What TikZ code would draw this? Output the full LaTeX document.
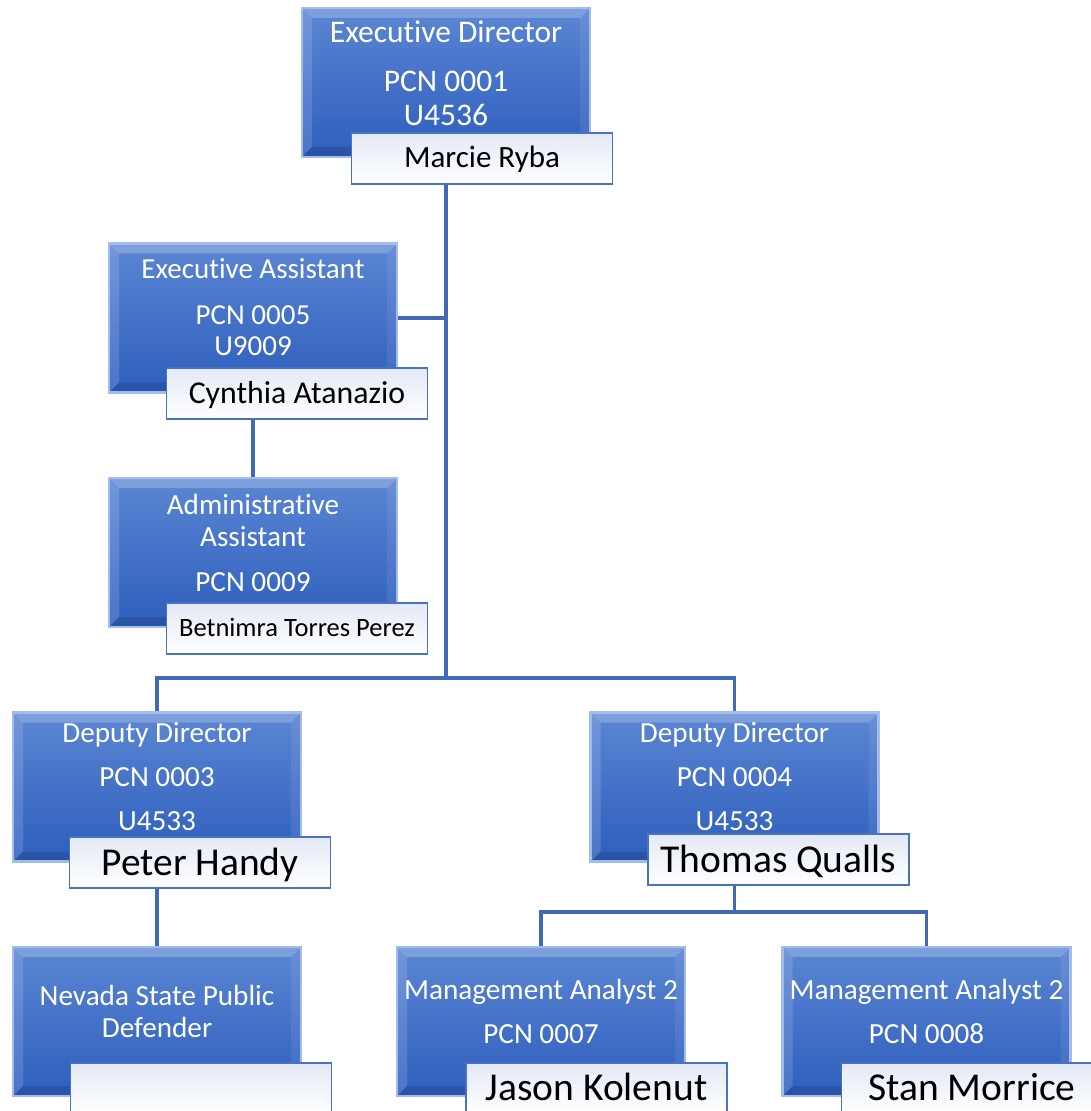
\documentclass[tikz,border=0pt]{standalone}
\usepackage{fontspec}
\setmainfont{Carlito}[Ligatures=NoCommon]
\usepackage{tikz}
\usetikzlibrary{backgrounds}

\definecolor{boxtop}{HTML}{5B86D3}
\definecolor{boxbottom}{HTML}{2E5EBD}
\definecolor{boxedge}{HTML}{A3BDEA}
\definecolor{nametop}{HTML}{E3E9F5}
\definecolor{nameedge}{HTML}{4A72C2}
\definecolor{linkblue}{HTML}{4169B8}

\tikzset{
    posbox/.style={rectangle, minimum width=144pt, minimum height=74.5pt, inner sep=0pt,
        top color=boxtop, bottom color=boxbottom, draw=boxedge, line width=1.2pt,
        path picture={
            \fill[white, opacity=0.22] (path picture bounding box.north west) -- (path picture bounding box.north east)
                -- ([xshift=-5pt,yshift=-5pt]path picture bounding box.north east) -- ([xshift=5pt,yshift=-5pt]path picture bounding box.north west) -- cycle;
            \fill[white, opacity=0.14] (path picture bounding box.north west) -- (path picture bounding box.south west)
                -- ([xshift=5pt,yshift=5pt]path picture bounding box.south west) -- ([xshift=5pt,yshift=-5pt]path picture bounding box.north west) -- cycle;
            \fill[black, opacity=0.12] (path picture bounding box.south west) -- (path picture bounding box.south east)
                -- ([xshift=-5pt,yshift=5pt]path picture bounding box.south east) -- ([xshift=5pt,yshift=5pt]path picture bounding box.south west) -- cycle;
            \fill[white, opacity=0.08] (path picture bounding box.north east) -- (path picture bounding box.south east)
                -- ([xshift=-5pt,yshift=5pt]path picture bounding box.south east) -- ([xshift=-5pt,yshift=-5pt]path picture bounding box.north east) -- cycle;
        }},
    namebox/.style={rectangle, minimum width=130.5pt, minimum height=25.5pt, inner sep=0pt,
        top color=nametop, bottom color=white, draw=nameedge, line width=0.9pt, text=black,
        font=\fontsize{19.75}{22}\selectfont, text height=12.5pt, text depth=0pt},
    titletext/.style={align=center, text=white, inner sep=0pt, font=\fontsize{14.6}{16}\selectfont},
    link/.style={draw=linkblue, line width=1.6pt},
}

\begin{document}
\begin{tikzpicture}[x=0.5pt, y=-0.5pt]
    \useasboundingbox (0,0) rectangle (1090,1111);

    % position boxes
    \node[posbox] (ed)   at (446, 82.5)   {};
    \node[posbox] (ea)   at (253, 318)    {};
    \node[posbox] (adm)  at (253, 552.5)  {};
    \node[posbox] (ddl)  at (157, 787)    {};
    \node[posbox] (ddr)  at (734.5, 787)  {};
    \node[posbox] (nspd) at (157, 1021.5) {};
    \node[posbox] (mal)  at (541, 1021.5) {};
    \node[posbox] (mar)  at (926.5, 1021.5) {};

    % titles
    \node[titletext, font=\fontsize{15.75}{17}\selectfont] (edt) at ([yshift=4.5pt]ed.center) {Executive Director\\[7.5pt]PCN 0001\\U4536};
    \node[titletext, font=\fontsize{14.5}{15.5}\selectfont] (eat) at ([yshift=5.25pt]ea.center) {Executive Assistant\\[7.5pt]PCN 0005\\U9009};
    \node[titletext] (admt) at ([yshift=5pt]adm.center) {Administrative\\Assistant\\[6.5pt]PCN 0009};
    \node[titletext] (ddlt) at ([yshift=5.25pt]ddl.center) {Deputy Director\\[6pt]PCN 0003\\[6pt]U4533};
    \node[titletext] (ddrt) at ([yshift=5.25pt]ddr.center) {Deputy Director\\[6pt]PCN 0004\\[6pt]U4533};
    \node[titletext] (nspdt) at ([yshift=5pt]nspd.center) {Nevada State Public\\Defender};
    \node[titletext] (malt) at ([yshift=5pt]mal.center) {Management Analyst 2\\[6pt]PCN 0007};
    \node[titletext] (mart) at ([yshift=5pt]mar.center) {Management Analyst 2\\[6pt]PCN 0008};

    % names
    \node[namebox, font=\fontsize{15.5}{18}\selectfont, text height=9.8pt] (edn) at ([xshift=18pt]ed.south) {Marcie Ryba};
    \node[namebox, font=\fontsize{15.9}{18}\selectfont, text height=10pt] (ean) at ([xshift=22pt]ea.south) {Cynthia Atanazio};
    \node[namebox, font=\fontsize{13.25}{15}\selectfont, text height=8.4pt] (admn) at ([xshift=22pt]adm.south) {Betnimra Torres Perez};
    \node[namebox] (ddln) at ([xshift=21.5pt]ddl.south) {Peter Handy};
    \node[namebox] (ddrn) at ([xshift=22pt,yshift=1.5pt]ddr.south) {Thomas Qualls};
    \node[namebox] (nspdn) at ([xshift=22pt,yshift=4.5pt]nspd.south) {};
    \node[namebox] (maln) at ([xshift=27.75pt,yshift=4.5pt]mal.south) {Jason Kolenut};
    \node[namebox] (marn) at ([xshift=22.75pt,yshift=4.5pt]mar.south) {Stan Morrice};

    % connectors
    \begin{scope}[on background layer]
        \coordinate (bus) at (446, 678);
        \coordinate (bus2) at (734.5, 912);
        \draw[link] (ed.south) -- (bus);
        \draw[link] (ea.east) -- (ea.east -| bus);
        \draw[link] (ea.south) -- (adm.north);
        \draw[link] (bus) -| (ddl.north);
        \draw[link] (bus) -| (ddr.north);
        \draw[link] (ddl.south) -- (nspd.north);
        \draw[link] (ddr.south) -- (bus2);
        \draw[link] (bus2) -| (mal.north);
        \draw[link] (bus2) -| (mar.north);
    \end{scope}
\end{tikzpicture}
\end{document}
